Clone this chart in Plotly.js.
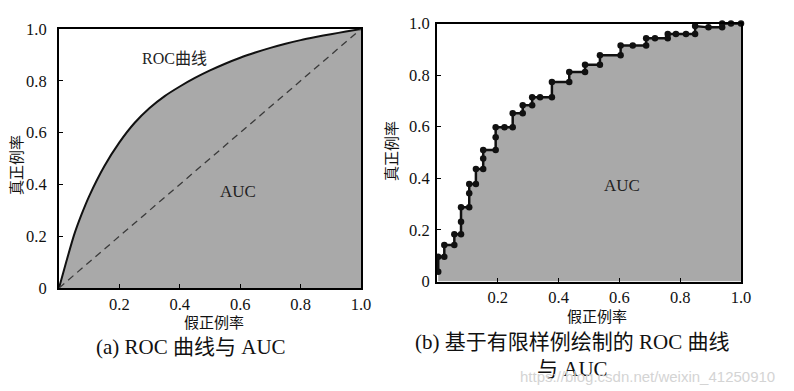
<!DOCTYPE html>
<html><head><meta charset="utf-8">
<script src="https://cdn.plot.ly/plotly-3.0.1.min.js"></script>
<style>html,body{margin:0;padding:0;background:#fff}#chart{width:794px;height:391px}</style>
</head><body><div id="chart"></div>
<script>
// (a) smooth ROC curve
const curveFpr = [0, 0.025, 0.05, 0.075, 0.1, 0.15, 0.2, 0.25, 0.3, 0.35, 0.4, 0.45, 0.5, 0.55, 0.6, 0.65, 0.7, 0.75, 0.8, 0.85, 0.9, 0.95, 1.0];
const curveTpr = [0, 0.105, 0.205, 0.285, 0.355, 0.47, 0.562, 0.637, 0.695, 0.741, 0.778, 0.811, 0.84, 0.866, 0.889, 0.909, 0.927, 0.943, 0.957, 0.969, 0.98, 0.99, 1.0];
const diagFpr = [0, 1];
const diagTpr = [0, 1];
// (b) ROC curve from finite samples
const sampleFpr = [0.004,0.004,0.024,0.024,0.057,0.057,0.079,0.079,0.079,0.106,0.106,0.106,0.128,0.128,0.152,0.152,0.152,0.193,0.193,0.193,0.222,0.249,0.249,0.282,0.282,0.313,0.313,0.339,0.378,0.378,0.435,0.435,0.487,0.487,0.536,0.536,0.604,0.604,0.644,0.688,0.688,0.717,0.759,0.759,0.786,0.819,0.849,0.849,0.893,0.938,0.938,0.967,1.0];
const sampleTpr = [0.038,0.096,0.096,0.141,0.141,0.183,0.183,0.232,0.288,0.288,0.342,0.378,0.378,0.436,0.436,0.477,0.51,0.51,0.559,0.598,0.598,0.598,0.652,0.652,0.683,0.683,0.714,0.714,0.714,0.773,0.773,0.812,0.812,0.840,0.840,0.877,0.877,0.915,0.915,0.915,0.943,0.943,0.943,0.959,0.959,0.959,0.959,0.99,0.985,0.985,1.0,1.0,1.0];
// ticks
const xTickVals = [0.2, 0.4, 0.6, 0.8, 1.0];
const xTickText = ['0.2', '0.4', '0.6', '0.8', '1.0'];
const yTickVals = [0, 0.2, 0.4, 0.6, 0.8, 1.0];
const yTickText = ['0', '0.2', '0.4', '0.6', '0.8', '1.0'];
// texts
const xTitle = '假正例率';
const yTitle = '真正例率';
const rocLabel = 'ROC曲线';
const aucLabel = 'AUC';
const captionA = '(a) ROC 曲线与 AUC';
const captionB1 = '(b) 基于有限样例绘制的 ROC 曲线';
const captionB2 = '与 AUC';
const watermark = 'https://blog.csdn.net/weixin_41250910';

const W = 794, H = 391;
const px = v => v / W;
const py = v => 1 - v / H;

const serif = 'Liberation Serif, DejaVu Serif, serif';
const cjk = 'Noto Sans CJK SC, sans-serif';
const fillGray = '#a9a9a9';

const traces = [
  {x: curveFpr, y: curveTpr, xaxis: 'x', yaxis: 'y', mode: 'lines', type: 'scatter',
   line: {color: '#111', width: 2, shape: 'spline', smoothing: 0.6}, fill: 'tozeroy', fillcolor: fillGray, hoverinfo: 'skip'},
  {x: diagFpr, y: diagTpr, xaxis: 'x', yaxis: 'y', mode: 'lines', type: 'scatter',
   line: {color: '#3a3a3a', width: 1.3, dash: '7px,5px'}, hoverinfo: 'skip'},
  {x: sampleFpr, y: sampleTpr, xaxis: 'x2', yaxis: 'y2', mode: 'lines+markers', type: 'scatter', cliponaxis: false,
   line: {color: '#111', width: 2.5}, marker: {color: '#111', size: 6.5}, fill: 'tozeroy', fillcolor: fillGray, hoverinfo: 'skip'}
];

function xa(domain, standoff) {
  return {domain: domain, range: [0, 1], showgrid: false, zeroline: false, showline: true, mirror: true,
    linecolor: '#000', linewidth: 2, ticks: 'inside', ticklen: 4, tickwidth: 1, tickcolor: '#000',
    tickvals: xTickVals, ticktext: xTickText, tickfont: {family: serif, size: 16.5, color: '#111'},
    ticklabelstandoff: standoff, fixedrange: true};
}
function ya(domain, standoff, anchor) {
  return {domain: domain, range: [0, 1], anchor: anchor, showgrid: false, zeroline: false, showline: true, mirror: true,
    linecolor: '#000', linewidth: 2, ticks: 'inside', ticklen: 4, tickwidth: 1, tickcolor: '#000',
    tickvals: yTickVals, ticktext: yTickText, tickfont: {family: serif, size: 16.5, color: '#111'},
    ticklabelstandoff: standoff, fixedrange: true};
}

function note(text, x, y, size, family, extra) {
  return Object.assign({text: text, x: px(x), y: py(y), xref: 'paper', yref: 'paper', xanchor: 'center', yanchor: 'middle',
    showarrow: false, font: {family: family, size: size, color: '#111'}}, extra || {});
}

const layout = {
  width: W, height: H, margin: {l: 0, r: 0, t: 0, b: 0},
  paper_bgcolor: '#fff', plot_bgcolor: '#fff', showlegend: false,
  xaxis: Object.assign(xa([px(59), px(361)], 0), {anchor: 'y'}),
  yaxis: ya([1 - 288 / H, 1 - 29 / H], 7, 'x'),
  xaxis2: Object.assign(xa([px(437), px(741)], 0), {anchor: 'y2'}),
  yaxis2: ya([1 - 281.5 / H, 1 - 23.5 / H], 2, 'x2'),
  annotations: [
    {text: rocLabel, x: 0.384, y: 0.888, xref: 'x', yref: 'y', xanchor: 'center', yanchor: 'middle', showarrow: false, font: {family: serif + ', ' + cjk, size: 16, color: '#222'}},
    {text: aucLabel, x: 0.593, y: 0.371, xref: 'x', yref: 'y', xanchor: 'center', yanchor: 'middle', showarrow: false, font: {family: serif, size: 17, color: '#222'}},
    {text: aucLabel, x: 0.61, y: 0.371, xref: 'x2', yref: 'y2', xanchor: 'center', yanchor: 'middle', showarrow: false, font: {family: serif, size: 17, color: '#222'}},
    note(xTitle, 214, 321, 15, cjk),
    note(yTitle, 15, 165, 15, cjk, {textangle: -90}),
    note(xTitle, 597, 315, 15, cjk),
    note(yTitle, 390, 151, 15, cjk, {textangle: -90}),
    note(captionA, 191, 347, 21, serif + ', ' + cjk),
    note(captionB1, 572, 342, 21, serif + ', ' + cjk),
    note(captionB2, 572, 369, 21, serif + ', ' + cjk),
    note(watermark, 647, 376, 15, 'Liberation Sans, Arial, sans-serif', {font: {family: 'Liberation Sans, Arial, sans-serif', size: 15, color: '#d4d4d4'}})
  ]
};

Plotly.newPlot('chart', traces, layout, {displayModeBar: false, staticPlot: true});
</script>
</body></html>
